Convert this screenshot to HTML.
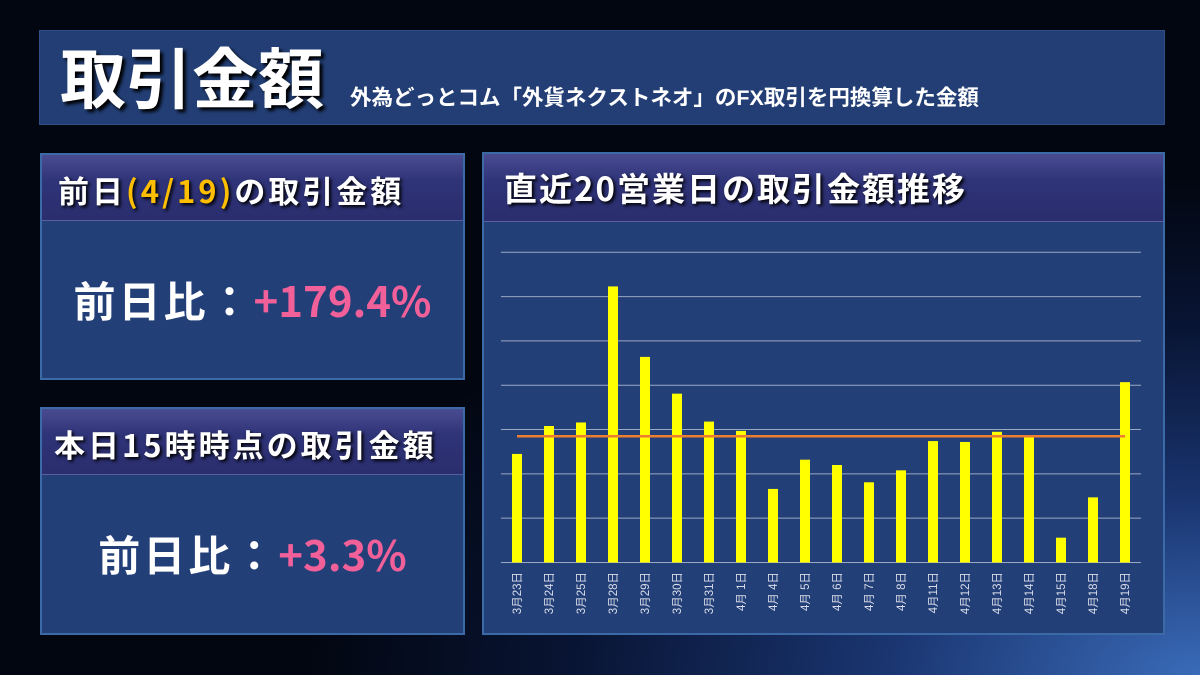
<!DOCTYPE html>
<html><head><meta charset="utf-8"><style>
*{margin:0;padding:0;box-sizing:border-box}
body{width:1200px;height:675px;overflow:hidden;font-family:"Liberation Sans","Noto Sans CJK JP",sans-serif;
background:radial-gradient(ellipse 900px 500px at 1200px 675px,#3a6bb8 0%,#1a3570 35%,#081433 70%,#020610 100%);position:relative}
.panel{position:absolute;background:#233f78;border:2px solid #3b6aa6}
.hdr{position:absolute;left:0;right:0;top:0;background:linear-gradient(#4a4c92,#2f3378 40%,#2a2e6e);border-bottom:1px solid #5a5ea0;color:#fff;font-weight:bold;text-shadow:2px 2px 3px #000;font-family:"Noto Sans CJK JP",sans-serif;white-space:nowrap}
.big{position:absolute;left:0;right:0;text-align:center;color:#fff;font-size:42px;font-weight:bold;letter-spacing:3px;font-family:"Noto Sans CJK JP",sans-serif;white-space:nowrap}
.pink{color:#f2609a;letter-spacing:0}
</style></head><body>
<div class="panel" style="left:39px;top:30px;width:1126px;height:95px;background:#223e74;border:1px solid #2e4f88">
<span style="position:absolute;left:20px;top:-4px;font-size:66px;font-weight:bold;color:#fff;text-shadow:3px 3px 3px #000;font-family:'Noto Sans CJK JP',sans-serif">取引金額</span>
<span style="position:absolute;left:310px;top:50px;font-size:21.5px;font-weight:bold;color:#fff">外為どっとコム「外貨ネクストネオ」のFX取引を円換算した金額</span>
</div>
<div class="panel" style="left:40px;top:153px;width:425px;height:227px">
<div class="hdr" style="height:66px;padding:12px 0 0 16px;font-size:31px;letter-spacing:3px">前日<span style="color:#ffbf00">(4/19)</span>の取引金額</div>
<div class="big" style="top:114px">前日比：<span class="pink">+179.4%</span></div>
</div>
<div class="panel" style="left:40px;top:407px;width:425px;height:228px">
<div class="hdr" style="height:66px;padding:12px 0 0 12px;font-size:31px;letter-spacing:3px">本日15時時点の取引金額</div>
<div class="big" style="top:114px">前日比：<span class="pink">+3.3%</span></div>
</div>
<div class="panel" style="left:482px;top:152px;width:683px;height:483px">
<div class="hdr" style="height:68px;padding:9px 0 0 20px;font-size:33px;letter-spacing:2px">直近20営業日の取引金額推移</div>
</div>
<svg id="chart" width="1200" height="675" style="position:absolute;left:0;top:0"></svg>
<script>
const categories=["3月23日","3月24日","3月25日","3月28日","3月29日","3月30日","3月31日","4月 1日","4月 4日","4月 5日","4月 6日","4月 7日","4月 8日","4月11日","4月12日","4月13日","4月14日","4月15日","4月18日","4月19日"];
const values=[2.45,3.08,3.16,6.23,4.64,3.81,3.18,2.97,1.66,2.32,2.20,1.81,2.08,2.74,2.72,2.95,2.87,0.56,1.47,4.07];
const gridTicks=[0,1,2,3,4,5,6,7];
const NS="http://www.w3.org/2000/svg";
const svg=document.getElementById('chart');
const x0=501,x1=1141,y0=562.5,yTop=252.3,yMax=7;
const band=(x1-x0)/categories.length;
const xc=i=>x0+band*(i+0.5);
const y=v=>y0-(v/yMax)*(y0-yTop);
function mk(t,a){const e=document.createElementNS(NS,t);for(const k in a)e.setAttribute(k,a[k]);svg.appendChild(e);return e;}
gridTicks.forEach(t=>{
 const l=mk('line',{x1:x0,x2:x1,y1:y(t),y2:y(t),stroke:'#9aa8c4','stroke-width':1});
 
 
});
values.forEach((v,i)=>{
 const r=mk('rect',{x:xc(i)-5,y:y(v),width:10,height:y0-y(v),fill:'#ffff00'});
 
 
 const tx=xc(i)+4,ty=572;
 const t=mk('text',{x:tx,y:ty,fill:'#d8dce8','font-size':11.5,'text-anchor':'end',transform:`rotate(-90 ${tx} ${ty})`,'font-family':'"Liberation Sans","Noto Sans CJK JP",sans-serif'});
 t.textContent=categories[i];
 
 
});
const avg=values.reduce((a,b)=>a+b,0)/values.length;
const al=mk('line',{x1:xc(0),x2:xc(values.length-1),y1:y(avg),y2:y(avg),stroke:'#ed7d31','stroke-width':2.5});


</script>
</body></html>
